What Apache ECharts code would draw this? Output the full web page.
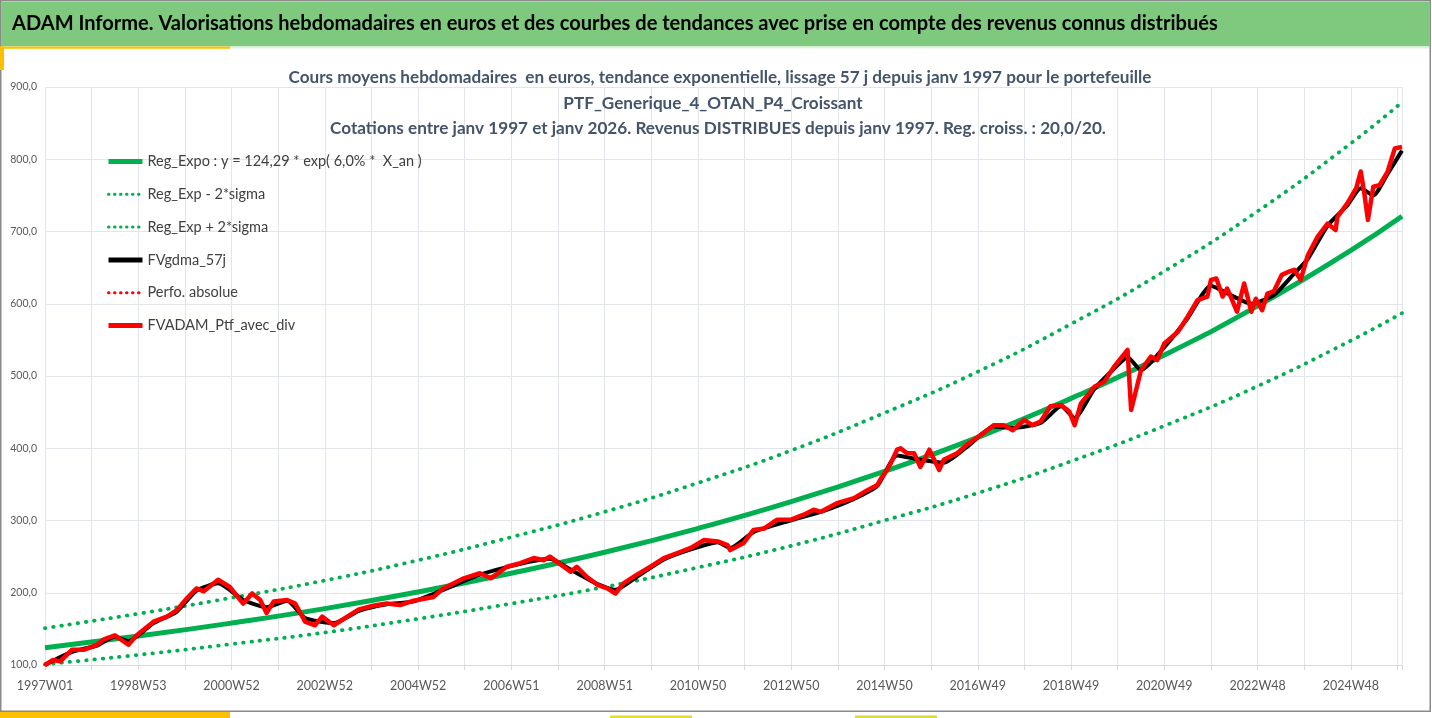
<!DOCTYPE html>
<html><head><meta charset="utf-8">
<script src="https://cdn.jsdelivr.net/npm/echarts@6/dist/echarts.min.js"></script>
<style>html,body{margin:0;padding:0;background:#fff}#c{width:1432px;height:718px}</style>
</head><body><div id="c"></div>
<script>
const tickLabels = ['1997W01','1998W53','2000W52','2002W52','2004W52','2006W51','2008W51','2010W50','2012W50','2014W50','2016W49','2018W49','2020W49','2022W48','2024W48'];
const trendWeeks = [0,104,208,312,416,520,624,728,832,936,1040,1144,1248,1352,1456,1513];
const regExpo = [124,140,158,178,201,227,256,289,326,368,415,469,529,597,674,721];
const regHigh = [151,171,193,217,245,277,312,352,397,449,506,572,645,728,822,879];
const regLow  = [101,114,129,145,164,185,208,235,265,300,338,382,431,486,549,587];
const ptfWeeks = [0,9,17,30,43,58,65,78,93,102,121,136,147,158,169,177,193,206,221,231,240,247,255,270,279,290,301,309,322,337,350,366,381,396,411,433,444,467,485,497,515,530,545,556,563,573,586,593,604,616,627,636,645,660,675,690,705,720,735,750,761,764,779,790,802,816,831,846,857,865,883,902,917,928,932,939,943,950,954,961,969,976,986,997,1002,1017,1028,1043,1058,1069,1079,1092,1101,1110,1121,1133,1142,1148,1155,1170,1181,1192,1207,1211,1222,1233,1240,1248,1263,1274,1285,1296,1300,1306,1313,1318,1322,1329,1337,1345,1350,1357,1363,1370,1379,1386,1393,1400,1408,1419,1430,1439,1441,1452,1462,1467,1471,1475,1481,1488,1497,1505,1513];
const ptfValues = [100,107,105,121,121,128,135,141,128,141,160,167,176,192,206,202,218,208,185,199,190,172,188,190,185,160,155,167,155,167,177,182,185,183,189,194,206,220,227,220,236,241,248,245,250,241,229,236,222,211,206,199,213,225,236,248,255,262,273,271,266,259,269,287,289,301,301,308,315,312,324,331,342,349,358,370,379,398,400,393,393,374,398,370,384,393,405,418,432,432,425,439,432,437,458,460,451,432,462,485,492,513,536,453,508,527,522,545,561,582,605,610,633,635,610,621,610,589,628,589,607,591,614,617,640,644,647,633,667,693,711,702,720,739,760,783,753,716,762,764,783,815,817];
const mmWeeks = [0,30,58,78,93,121,147,169,193,221,247,270,290,322,350,381,411,444,485,530,563,586,616,636,660,690,720,750,764,790,831,865,902,928,950,976,1002,1028,1058,1079,1110,1133,1148,1170,1192,1207,1222,1248,1274,1300,1322,1345,1370,1393,1408,1430,1452,1467,1481,1497,1513];
const mmValues = [100,118,127,139,133,158,174,203,213,190,180,189,165,158,175,184,188,204,225,240,247,232,212,204,222,246,260,270,262,284,300,312,330,348,390,384,380,402,430,428,435,458,442,482,510,526,508,540,580,625,612,600,612,642,662,708,736,760,750,780,812];

const titleText = 'ADAM Informe. Valorisations hebdomadaires en euros et des courbes de tendances avec prise en compte des revenus connus distribués';
const subLines = [
  'Cours moyens hebdomadaires  en euros, tendance exponentielle, lissage 57 j depuis janv 1997 pour le portefeuille',
  'PTF_Generique_4_OTAN_P4_Croissant',
  'Cotations entre janv 1997 et janv 2026. Revenus DISTRIBUES depuis janv 1997. Reg. croiss. : 20,0/20.'
];
const legendNames = ['Reg_Expo : y = 124,29 * exp( 6,0% *  X_an )', 'Reg_Exp - 2*sigma', 'Reg_Exp + 2*sigma', 'FVgdma_57j', 'Perfo. absolue', 'FVADAM_Ptf_avec_div'];

const FONT = 'Lato, "Open Sans", sans-serif';
function fitSize(text, weight, target) {
  const c = document.createElement('canvas').getContext('2d');
  c.font = weight + ' 100px ' + FONT;
  return 100 * target / c.measureText(text).width;
}
const zip = (w, v) => w.map((x, i) => [x, v[i]]);

const titleSize = fitSize(titleText, 'bold', 1206);
const subSize = fitSize(subLines[0], 'bold', 864);

const chart = echarts.init(document.getElementById('c'), null, {renderer: 'canvas'});
const green = '#00b050';
const dotted = {type: [0.5, 7.8], cap: 'round'};
const legendDot = {type: [0.5, 5.5], cap: 'round'};

chart.setOption({
  animation: false,
  backgroundColor: '#ffffff',
  graphic: [
    {type: 'rect', shape: {x: 0.75, y: 0.75, width: 1429.5, height: 710.5}, style: {fill: 'none', stroke: '#8a8a8a', lineWidth: 1.5}, z: 100},
    {type: 'rect', shape: {x: 1.5, y: 2, width: 1428, height: 44.5}, style: {fill: '#7fc97e'}, z: 90},
    {type: 'rect', shape: {x: 1.5, y: 46.5, width: 1428, height: 2}, style: {fill: '#e3f1df'}, z: 90},
    {type: 'rect', shape: {x: 0, y: 46.5, width: 230, height: 2.2}, style: {fill: '#ffc000'}, z: 101},
    {type: 'rect', shape: {x: 0, y: 46.5, width: 4, height: 23.5}, style: {fill: '#ffc000'}, z: 101},
    {type: 'rect', shape: {x: 0, y: 712, width: 230, height: 6}, style: {fill: '#ffc000'}, z: 101},
    {type: 'rect', shape: {x: 610, y: 715.5, width: 82, height: 2.5}, style: {fill: '#e8dc2a'}, z: 101},
    {type: 'rect', shape: {x: 855, y: 715.5, width: 82, height: 2.5}, style: {fill: '#d9d93a'}, z: 101},
    {type: 'text', x: 12, y: 24, z: 102, style: {text: titleText, fill: '#000000', fontFamily: FONT, fontWeight: 'bold', fontSize: titleSize, verticalAlign: 'middle', align: 'left'}},
    {type: 'text', x: 720, y: 77, z: 102, style: {text: subLines[0], fill: '#44546a', fontFamily: FONT, fontWeight: 'bold', fontSize: subSize, verticalAlign: 'middle', align: 'center'}},
    {type: 'text', x: 713, y: 103, z: 102, style: {text: subLines[1], fill: '#44546a', fontFamily: FONT, fontWeight: 'bold', fontSize: subSize, verticalAlign: 'middle', align: 'center'}},
    {type: 'text', x: 718, y: 128, z: 102, style: {text: subLines[2], fill: '#44546a', fontFamily: FONT, fontWeight: 'bold', fontSize: subSize, verticalAlign: 'middle', align: 'center'}}
  ],
  legend: {
    orient: 'vertical', left: 106, top: 154, padding: 0,
    itemWidth: 34, itemHeight: 14, itemGap: 17.8,
    itemStyle: {opacity: 0},
    textStyle: {fontFamily: FONT, fontSize: 14.5, color: '#404040', lineHeight: 14},
    data: [
      {name: legendNames[0], lineStyle: {width: 5}},
      {name: legendNames[1], lineStyle: Object.assign({width: 3}, legendDot)},
      {name: legendNames[2], lineStyle: Object.assign({width: 3}, legendDot)},
      {name: legendNames[3], lineStyle: {width: 5}},
      {name: legendNames[4], lineStyle: Object.assign({width: 3}, legendDot)},
      {name: legendNames[5], lineStyle: {width: 5}}
    ]
  },
  grid: {left: 45, right: 30, top: 87, bottom: 53, containLabel: false},
  xAxis: {
    type: 'value', min: 0, max: 1513, interval: 52,
    axisLine: {show: true, lineStyle: {color: '#d9d9d9'}},
    axisTick: {show: true, length: 5, lineStyle: {color: '#d9d9d9'}},
    axisLabel: {
      formatter: v => (v % 104 === 0 && tickLabels[v / 104]) ? tickLabels[v / 104] : '',
      color: '#595959', fontFamily: FONT, fontSize: 12.5, margin: 14
    },
    splitLine: {show: true, lineStyle: {color: '#e2e5ea', width: 1}}
  },
  yAxis: {
    type: 'value', min: 100, max: 900, interval: 100,
    axisLine: {show: false}, axisTick: {show: false},
    axisLabel: {formatter: v => v.toFixed(1).replace('.', ','), color: '#595959', fontFamily: FONT, fontSize: 10.5, margin: 8},
    splitLine: {show: true, lineStyle: {color: '#e2e5ea', width: 1}}
  },
  series: [
    {name: legendNames[0], type: 'line', data: zip(trendWeeks, regExpo), smooth: 0.5, symbol: 'none', lineStyle: {color: green, width: 5}, itemStyle: {color: green}, z: 2},
    {name: legendNames[1], type: 'line', data: zip(trendWeeks, regLow), smooth: 0.5, symbol: 'none', lineStyle: Object.assign({color: green, width: 3.8}, dotted), itemStyle: {color: green}, z: 2},
    {name: legendNames[2], type: 'line', data: zip(trendWeeks, regHigh), smooth: 0.5, symbol: 'none', lineStyle: Object.assign({color: green, width: 3.8}, dotted), itemStyle: {color: green}, z: 2},
    {name: legendNames[3], type: 'line', data: zip(mmWeeks, mmValues), smooth: 0.2, symbol: 'none', lineStyle: {color: '#000000', width: 4}, itemStyle: {color: '#000000'}, z: 3},
    {name: legendNames[4], type: 'line', data: zip(ptfWeeks, ptfValues), symbol: 'none', lineStyle: Object.assign({color: '#ff0000', width: 3}, {type: [0.5, 6], cap: 'round'}), itemStyle: {color: '#ff0000'}, z: 3},
    {name: legendNames[5], type: 'line', data: zip(ptfWeeks, ptfValues), symbol: 'none', lineStyle: {color: '#ff0000', width: 4.5, join: 'round'}, itemStyle: {color: '#ff0000'}, z: 4}
  ]
});
</script></body></html>
